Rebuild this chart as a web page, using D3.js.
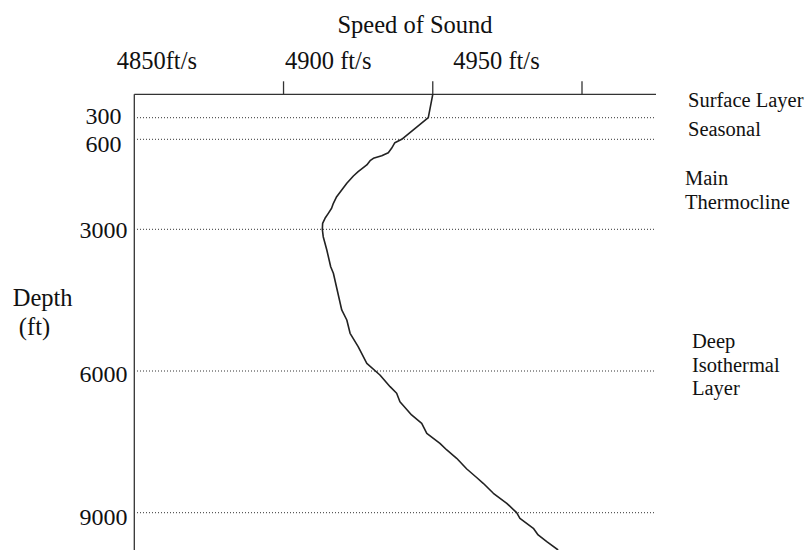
<!DOCTYPE html>
<html>
<head>
<meta charset="utf-8">
<script src="https://cdn.jsdelivr.net/npm/d3@7"></script>
<style>
  body { margin: 0; background: #fff; }
  text { font-family: "Liberation Serif", "DejaVu Serif", serif; fill: #111; }
</style>
</head>
<body>
<div class="static-image"></div>
<script>
// sound speed profile (ft/s) against depth (ft)
var speed = [4950.0, 4948.5, 4939.6, 4937.3, 4936.2, 4935.1, 4932.9, 4930.1, 4929.0, 4927.9,
    4925.0, 4923.4, 4921.2, 4919.5, 4917.8, 4916.7, 4916.1, 4915.0, 4913.9, 4913.1,
    4913.0, 4913.3, 4914.5, 4915.8, 4916.7, 4919.5, 4921.2, 4922.3, 4925.0, 4927.9,
    4932.3, 4935.7, 4937.9, 4939.0, 4942.9, 4946.3, 4948.0, 4952.4, 4954.7, 4958.0,
    4961.4, 4964.7, 4966.9, 4970.3, 4974.8, 4978.1, 4979.2, 4983.7, 4985.3, 4988.2, 4992.0];
var depth = [0, 300, 600, 690, 840, 957, 1037, 1107, 1171, 1285,
    1464, 1579, 1773, 1952, 2131, 2307, 2440, 2574, 2707, 2840,
    3000, 3157, 3438, 3792, 3931, 4708, 4920, 5202, 5485, 5837,
    6085, 6332, 6472, 6650, 6931, 7107, 7319, 7531, 7672, 7848,
    8075, 8255, 8377, 8589, 8801, 9000, 9119, 9330, 9472, 9614, 9790];

var speedTicks = [4900, 4950, 5000];
var speedLabelValues = [4850, 4900, 4950];
var speedLabels = ["4850ft/s", "4900 ft/s", "4950 ft/s"];
var depthTicks = [300, 600, 3000, 6000, 9000];
var layerNames = [["Surface Layer"], ["Seasonal"], ["Main", "Thermocline"], ["Deep", "Isothermal", "Layer"]];

var width = 805;
var height = 550;

// the original drawing is not linear in depth, so a piecewise scale is used
var x = d3.scaleLinear().domain([4850, 5000]).range([134.3, 582]);
var y = d3.scaleLinear()
    .domain([0, 300, 600, 3000, 6000, 9000, 10000])
    .range([94.3, 117.7, 139.3, 229.3, 371, 512.7, 559.9]);

var svg = d3.select(".static-image")
    .append("svg")
    .attr("width", width)
    .attr("height", height);

drawAxes();
drawGuides();
drawProfile();
drawLabels();

function drawAxes() {
    // top axis
    svg.append("line")
        .attr("x1", x(4850)).attr("x2", 656)
        .attr("y1", y(0)).attr("y2", y(0))
        .attr("stroke", "#333").attr("stroke-width", 1.3);
    svg.selectAll(".xtick")
        .data(speedTicks)
        .enter().append("line")
        .attr("class", "xtick")
        .attr("x1", function (d) { return x(d); })
        .attr("x2", function (d) { return x(d); })
        .attr("y1", y(0) - 13)
        .attr("y2", y(0))
        .attr("stroke", "#333").attr("stroke-width", 1.3);

    // left axis
    svg.append("line")
        .attr("x1", x(4850)).attr("x2", x(4850))
        .attr("y1", y(0)).attr("y2", height)
        .attr("stroke", "#333").attr("stroke-width", 1.3);

    // labels sit a bit off their ticks in the original
    var shift = [-17.6, 1.5, 20.5];
    svg.selectAll(".xlabel")
        .data(speedLabelValues)
        .enter().append("text")
        .attr("class", "xlabel")
        .attr("x", function (d, i) { return x(d) + shift[i]; })
        .attr("y", 69)
        .style("font-size", "24.5px")
        .text(function (d, i) { return speedLabels[i]; });

    svg.append("text")
        .attr("x", 415).attr("y", 33)
        .attr("text-anchor", "middle")
        .style("font-size", "24.5px")
        .text("Speed of Sound");

    var nudge = [-1.5, 4.5, 1, 2.5, 4];
    svg.selectAll(".ylabel")
        .data(depthTicks)
        .enter().append("text")
        .attr("class", "ylabel")
        .attr("x", 103.5)
        .attr("y", function (d, i) { return y(d) + nudge[i] + 8; })
        .attr("text-anchor", "middle")
        .style("font-size", "24px")
        .text(function (d) { return d; });

    svg.append("text")
        .attr("x", 42.7).attr("y", 306)
        .attr("text-anchor", "middle")
        .style("font-size", "24.5px")
        .text("Depth");
    svg.append("text")
        .attr("x", 34.5).attr("y", 335)
        .attr("text-anchor", "middle")
        .style("font-size", "24.5px")
        .text("(ft)");
}

function drawGuides() {
    svg.selectAll(".guide")
        .data(depthTicks)
        .enter().append("line")
        .attr("class", "guide")
        .attr("x1", 137).attr("x2", 655)
        .attr("y1", function (d) { return y(d); })
        .attr("y2", function (d) { return y(d); })
        .attr("stroke", "#333")
        .attr("stroke-width", 1)
        .attr("stroke-dasharray", "1,2");
}

function drawProfile() {
    var pts = speed.map(function (s, i) { return [s, depth[i]]; });
    var line = d3.line()
        .x(function (d) { return x(d[0]); })
        .y(function (d) { return y(d[1]); });
    svg.append("path")
        .datum(pts)
        .attr("d", line)
        .attr("fill", "none")
        .attr("stroke", "#222")
        .attr("stroke-width", 1.6)
        .attr("stroke-linejoin", "round");
}

function drawLabels() {
    var pos = [[688, 107], [688, 136], [685, 185], [692, 348]];
    layerNames.forEach(function (lines, k) {
        var t = svg.append("text")
            .attr("x", pos[k][0])
            .attr("y", pos[k][1])
            .style("font-size", "20.5px");
        t.selectAll("tspan")
            .data(lines)
            .enter().append("tspan")
            .attr("x", pos[k][0])
            .attr("dy", function (d, i) { return i == 0 ? 0 : 23.5; })
            .text(function (d) { return d; });
    });
}
</script>
</body>
</html>
